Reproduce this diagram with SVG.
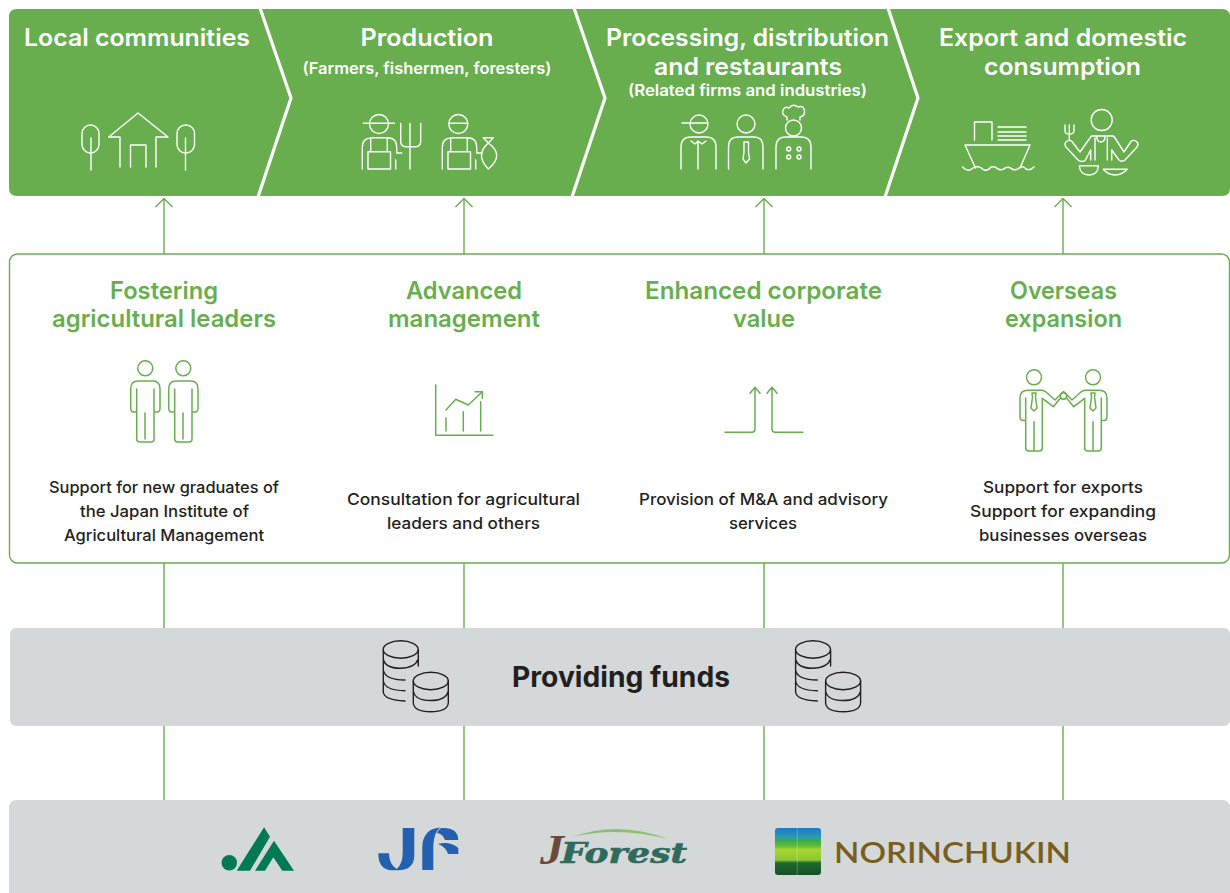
<svg xmlns="http://www.w3.org/2000/svg" width="1230" height="893" viewBox="0 0 1230 893">
<style>
text{font-family:Inter,"Open Sans","Liberation Sans",sans-serif;text-anchor:middle}
.h{font-size:24px;font-weight:600;fill:#fff}
.s{font-size:16px;font-weight:600;fill:#fff}
.g{font-size:24px;font-weight:600;fill:#68AE4F}
.b{font-size:16px;font-weight:500;fill:#231F20}
.w{fill:none;stroke:#fff;stroke-width:1.4;stroke-linejoin:round;stroke-linecap:round}
.i{fill:none;stroke:#68AE4F;stroke-width:1.5;stroke-linejoin:round;stroke-linecap:round}
.k{fill:none;stroke:#231F20;stroke-width:1.4;stroke-linecap:round}
.c{fill:none;stroke:#68AE4F;stroke-width:1.4}
.box{fill:#D4D8D9}
</style>
<defs>
<marker id="arr" markerUnits="userSpaceOnUse" markerWidth="12" markerHeight="20" refX="10" refY="10" orient="auto" viewBox="0 0 12 20"><path d="M1.500,1.500 L10,10 L1.500,18.500" fill="none" stroke="#68AE4F" stroke-width="1.4"/></marker>
<linearGradient id="nc" x1="0" y1="0" x2="0" y2="1">
<stop offset="0" stop-color="#1C78C8"/><stop offset=".2" stop-color="#2A9CB4"/><stop offset=".27" stop-color="#3CAB48"/><stop offset=".38" stop-color="#5DBB38"/><stop offset=".46" stop-color="#A8D62C"/><stop offset=".68" stop-color="#8CC838"/><stop offset=".74" stop-color="#1E6A2C"/><stop offset="1" stop-color="#17502A"/>
</linearGradient>
<g id="overalls"><path d="M362.300,169V147Q362.300,137.700 372,137.700H388Q396.700,138 396.700,147V153H401.700M370.700,137.700V151.700M387.300,137.700V151.700M368,151.700H390.500V169H368ZM395.700,160V169"/></g>
<g id="person"><circle cx="145.300" cy="368.300" r="7.500"/><path d="M136.700,389V412H133.500Q130.700,412 130.700,408V389Q130.700,381 138,381H153Q160,381 160,389V408Q160,412 157,412H154V389M136.700,412V439Q136.700,442 140,442H151Q154,442 154,439V412M145,413V439"/></g>
<g id="coins"><ellipse cx="400.700" cy="649.500" rx="17.500" ry="8.700"/><path d="M383.300,650V692Q384,700 405,701M418.300,650V666M383.300,659Q385,668 400,668.300Q415,668 418.300,659M383.300,670Q385,680 405,680M383.300,681Q385,690.500 405,690.700"/><ellipse cx="430.800" cy="681" rx="17.500" ry="8.700"/><path d="M413.300,681V703Q414,711.700 430.800,711.700Q447.500,711.700 448.300,703V681M413.300,691Q415,700.500 430.800,700.500Q446,700.500 448.300,691"/></g>
</defs>

<g id="flow-band">
<path d="M17,9H1222Q1230,9 1230,17V188Q1230,196 1222,196H17Q9,196 9,188V17Q9,9 17,9Z" fill="#68AE4F"/>
<path d="M260,8L291,98L258,197M574,8L605,98L572,197M888,8L918,98L885,197" fill="none" stroke="#fff" stroke-width="3.200"/>
</g>

<g id="connectors">
<path class="c" d="M164,254V198.500" marker-end="url(#arr)"/>
<path class="c" d="M464,254V198.500" marker-end="url(#arr)"/>
<path class="c" d="M764,254V198.500" marker-end="url(#arr)"/>
<path class="c" d="M1063,254V198.500" marker-end="url(#arr)"/>
<path class="c" d="M164,563V628M464,563V628M764,563V628M1063,563V628M164,726V800M464,726V800M764,726V800M1063,726V800"/>
</g>

<g id="local-communities">
<text class="h" x="137" y="46" textLength="226" lengthAdjust="spacingAndGlyphs">Local communities</text>
<g class="w">
<rect x="82" y="125" width="17" height="28" rx="8.500"/><path d="M91,138V170"/>
<rect x="177" y="125" width="17.500" height="28" rx="8.500"/><path d="M185.500,138V170"/>
<path d="M120,167V137H108.700L138,113L168,137H156V167M130.500,167V145H146V167"/>
</g>
</g>

<g id="production">
<text class="h" x="427" y="46" textLength="133" lengthAdjust="spacingAndGlyphs">Production</text>
<text class="s" x="427" y="74" textLength="249" lengthAdjust="spacingAndGlyphs">(Farmers, fishermen, foresters)</text>
<g class="w">
<use href="#overalls"/>
<circle cx="379" cy="124" r="9.500"/><path d="M363.300,123.300H394.300"/>
<path d="M410,123.500V169M400.700,123.500V141Q400.700,146.700 406,146.700H415.500Q420.700,146.700 420.700,141V123.500"/>
<use href="#overalls" x="80"/>
<circle cx="458.300" cy="124" r="9.500"/><path d="M449,123.300H467.700"/>
<path d="M483.300,137.700H493.300L488.300,143ZM488.300,143Q481.500,149 481.500,155.500Q481.500,162 488.300,169Q496.700,162 496.700,155.500Q496.700,149 488.300,143"/>
</g>
</g>

<g id="processing">
<text class="h" x="747.500" y="46" textLength="283" lengthAdjust="spacingAndGlyphs">Processing, distribution</text>
<text class="h" x="748" y="75" textLength="188" lengthAdjust="spacingAndGlyphs">and restaurants</text>
<text class="s" x="747.500" y="96" textLength="239" lengthAdjust="spacingAndGlyphs">(Related firms and industries)</text>
<g class="w">
<circle cx="699" cy="124" r="9"/><path d="M682,123H708"/>
<path d="M681,169V147Q681,137 691,137H706Q716,137 716,147V169M698,142V169M691,141L695,144L698,141L702,144L706,141"/>
<circle cx="746" cy="124" r="9"/>
<path d="M728.500,169V147Q728.500,137 738,137H754Q763,137 763,147V169M744,142H748.500V152L749.500,159L746,163L743,159L744,152Z"/>
<circle cx="793.500" cy="128" r="8"/>
<path d="M787,120V117Q781,115 783,110Q785,106 789,108Q793,103 798,107Q804,105 804.500,111Q805,116 800,117V120"/>
<path d="M776,169V147Q776,137 786,137H801Q811,137 811,147V169"/>
<circle cx="788.700" cy="149" r="2"/><circle cx="799" cy="149" r="2"/><circle cx="788.700" cy="157" r="2"/><circle cx="799" cy="157" r="2"/>
</g>
</g>

<g id="export">
<text class="h" x="1063" y="46" textLength="248" lengthAdjust="spacingAndGlyphs">Export and domestic</text>
<text class="h" x="1062.500" y="75" textLength="157" lengthAdjust="spacingAndGlyphs">consumption</text>
<g class="w">
<path d="M974.500,140V122H992V140M998,127H1026M998,132H1026M998,136H1026M998,140H1026M965,145H1030M965,145L975.500,168M1030,145L1020,168"/>
<path d="M962.500,167Q966,171 970,170Q974,167 977,166.500Q981,167 984,170Q988,171 991,167Q995,166 998,169Q1002,171 1005,168Q1009,166 1012,169Q1016,171 1019,168Q1023,165 1026,169Q1030,171 1034,167"/>
<circle cx="1101.700" cy="120" r="10.500"/>
<path d="M1069.300,125V140M1065,125V131Q1065,134 1069.300,134Q1074,134 1074,131V125"/>
<path d="M1091.700,136H1113Q1114,136.500 1115,138L1124,152L1131,141.500Q1134,139 1137,142Q1139,144 1137,147L1125,160Q1122,162.500 1119,160L1111.700,150M1091.700,136Q1090.500,136.500 1090,138L1080,152L1072,141.500Q1069,139 1066,142Q1064,144 1066,147L1078,160Q1081,162.500 1085,160.700L1090.700,150V160M1095,138V160M1107.300,138V160M1111.700,150V160M1096.700,136Q1096.700,142 1101,142Q1105,142 1105,136"/>
<path d="M1079.300,165.700H1098.300Q1098,175 1089,175Q1080,175 1079.300,165.700ZM1103.300,169.300H1127.300Q1122,175 1115,175Q1108,175 1103.300,169.300Z"/>
</g>
</g>

<g id="support-panel">
<rect x="9.500" y="254" width="1220" height="309" rx="8" fill="#fff" stroke="#68AE4F" stroke-width="1.400"/>
</g>

<g id="fostering">
<text class="g" x="164" y="299" textLength="108" lengthAdjust="spacingAndGlyphs">Fostering</text>
<text class="g" x="164" y="327" textLength="224" lengthAdjust="spacingAndGlyphs">agricultural leaders</text>
<g class="i"><use href="#person"/><use href="#person" x="38"/></g>
<text class="b" x="164" y="493" textLength="230" lengthAdjust="spacingAndGlyphs">Support for new graduates of</text>
<text class="b" x="164.500" y="517" textLength="169" lengthAdjust="spacingAndGlyphs">the Japan Institute of</text>
<text class="b" x="164" y="541" textLength="200" lengthAdjust="spacingAndGlyphs">Agricultural Management</text>
</g>

<g id="advanced-management">
<text class="g" x="464" y="299" textLength="116" lengthAdjust="spacingAndGlyphs">Advanced</text>
<text class="g" x="464" y="327" textLength="152" lengthAdjust="spacingAndGlyphs">management</text>
<path class="i" d="M435.700,385V435.300H492.700M446,418V431M463.300,411.700V431M480.700,401.700V431M446,410L455.700,399.300L468.300,405L482.300,391.700M475,391.700H482.300V398.300"/>
<text class="b" x="463.500" y="505" textLength="233" lengthAdjust="spacingAndGlyphs">Consultation for agricultural</text>
<text class="b" x="463.500" y="529" textLength="153" lengthAdjust="spacingAndGlyphs">leaders and others</text>
</g>

<g id="corporate-value">
<text class="g" x="763.500" y="299" textLength="237" lengthAdjust="spacingAndGlyphs">Enhanced corporate</text>
<text class="g" x="764" y="327" textLength="62" lengthAdjust="spacingAndGlyphs">value</text>
<path class="i" d="M725,432.300H752Q755,432.300 755,429V387.300M750,393.300L755,387.300L760,393.300M802.700,432.300H775Q772,432.300 772,429V387.300M767,393.300L772,387.300L777,393.300"/>
<text class="b" x="763.500" y="505" textLength="249" lengthAdjust="spacingAndGlyphs">Provision of M&amp;A and advisory</text>
<text class="b" x="763" y="529" textLength="68" lengthAdjust="spacingAndGlyphs">services</text>
</g>

<g id="overseas-expansion">
<text class="g" x="1063.500" y="299" textLength="107" lengthAdjust="spacingAndGlyphs">Overseas</text>
<text class="g" x="1063.500" y="327" textLength="117" lengthAdjust="spacingAndGlyphs">expansion</text>
<g class="i">
<circle cx="1034" cy="377.300" r="7.500"/><circle cx="1093" cy="377.300" r="7.500"/>
<circle cx="1063.500" cy="396" r="3.200"/>
<path d="M1025.700,398V420.500H1023Q1020,420.500 1020,416V398Q1020,390.300 1028,390.300H1041.700Q1044,390.500 1046,392L1055,400L1063.500,391.500L1072,400L1081,392Q1083,390.500 1085.300,390.300H1099Q1107,390.300 1107,398V416Q1107,420.500 1104,420.500H1101.300V398M1025.700,420.500V448Q1025.700,451 1029,451H1039Q1042.300,451 1042.300,448V398.300L1053.300,406.700L1060.500,398M1066.500,398L1073.700,406.700L1084.700,398.300V448Q1084.700,451 1088,451H1098Q1101.300,451 1101.300,448V420.500M1034,421.700V451M1093,421.700V451"/>
<path d="M1032,393H1036L1035.500,397L1037,408L1034,411L1031,408L1032.500,397ZM1091,393H1095L1094.500,397L1096,408L1093,411L1090,408L1091.500,397Z"/>
</g>
<text class="b" x="1063" y="493" textLength="160" lengthAdjust="spacingAndGlyphs">Support for exports</text>
<text class="b" x="1063" y="517" textLength="186" lengthAdjust="spacingAndGlyphs">Support for expanding</text>
<text class="b" x="1063" y="541" textLength="168" lengthAdjust="spacingAndGlyphs">businesses overseas</text>
</g>

<g id="providing-funds">
<rect class="box" x="10" y="628" width="1220" height="98" rx="6"/>
<g class="k"><use href="#coins"/><use href="#coins" x="412.300"/></g>
<text x="621" y="687" font-size="28" font-weight="700" fill="#231F20" textLength="218" lengthAdjust="spacingAndGlyphs">Providing funds</text>
</g>

<g id="organisations">
<path class="box" d="M17,800H1222Q1230,800 1230,808V893H9V808Q9,800 17,800Z"/>
<g id="ja" fill="#007A53">
<circle cx="229.300" cy="862.700" r="7.700"/>
<path d="M264,827.300L270,836.700L250,870.700H236.700Z"/>
<path d="M274,840.700L294,870.700H282.300L273.300,857.300L265,870.700H255Z"/>
</g>
<g id="jf" fill="#2360B0">
<path d="M402.700,828H414.300V855Q414.300,870.300 398,870.300H392Q378.300,870 378.300,853.300H389Q389,864 396.700,869Q402.700,864 402.700,852Z"/>
<path d="M422.300,870V848Q422.300,829 440,827.500Q434,833 433.300,845V870Z"/>
<path d="M441,828Q458,827 458.300,840H445Q443,834 437,833Q438,830 441,828Z"/>
<path d="M438,844Q450,841 458.300,848V854H448Q446,847 438,844Z"/>
</g>
<g id="jforest">
<path d="M573,837Q617,820 668,839Q617,826 573,837Z" fill="#8CC070"/>
<text x="552" y="864" font-size="42" font-weight="700" font-style="italic" fill="#6A4A3A" style="font-family:'Liberation Serif',serif" textLength="24" lengthAdjust="spacingAndGlyphs">J</text>
<text x="624" y="863" font-size="27" font-weight="700" font-style="italic" fill="#2E6B5C" stroke="#2E6B5C" stroke-width=".6" style="font-family:'DejaVu Serif',serif" textLength="126" lengthAdjust="spacingAndGlyphs">Forest</text>
</g>
<g id="norinchukin">
<rect x="775" y="828" width="46" height="47" rx="3" fill="url(#nc)"/>
<path d="M797.300,828V875" stroke="#fff" stroke-opacity=".35" stroke-width=".7"/>
<text x="952.500" y="862.700" font-size="29" font-weight="600" fill="#7A5F1C" style="font-family:Lato,sans-serif" textLength="237" lengthAdjust="spacingAndGlyphs">NORINCHUKIN</text>
</g>
</g>
</svg>
